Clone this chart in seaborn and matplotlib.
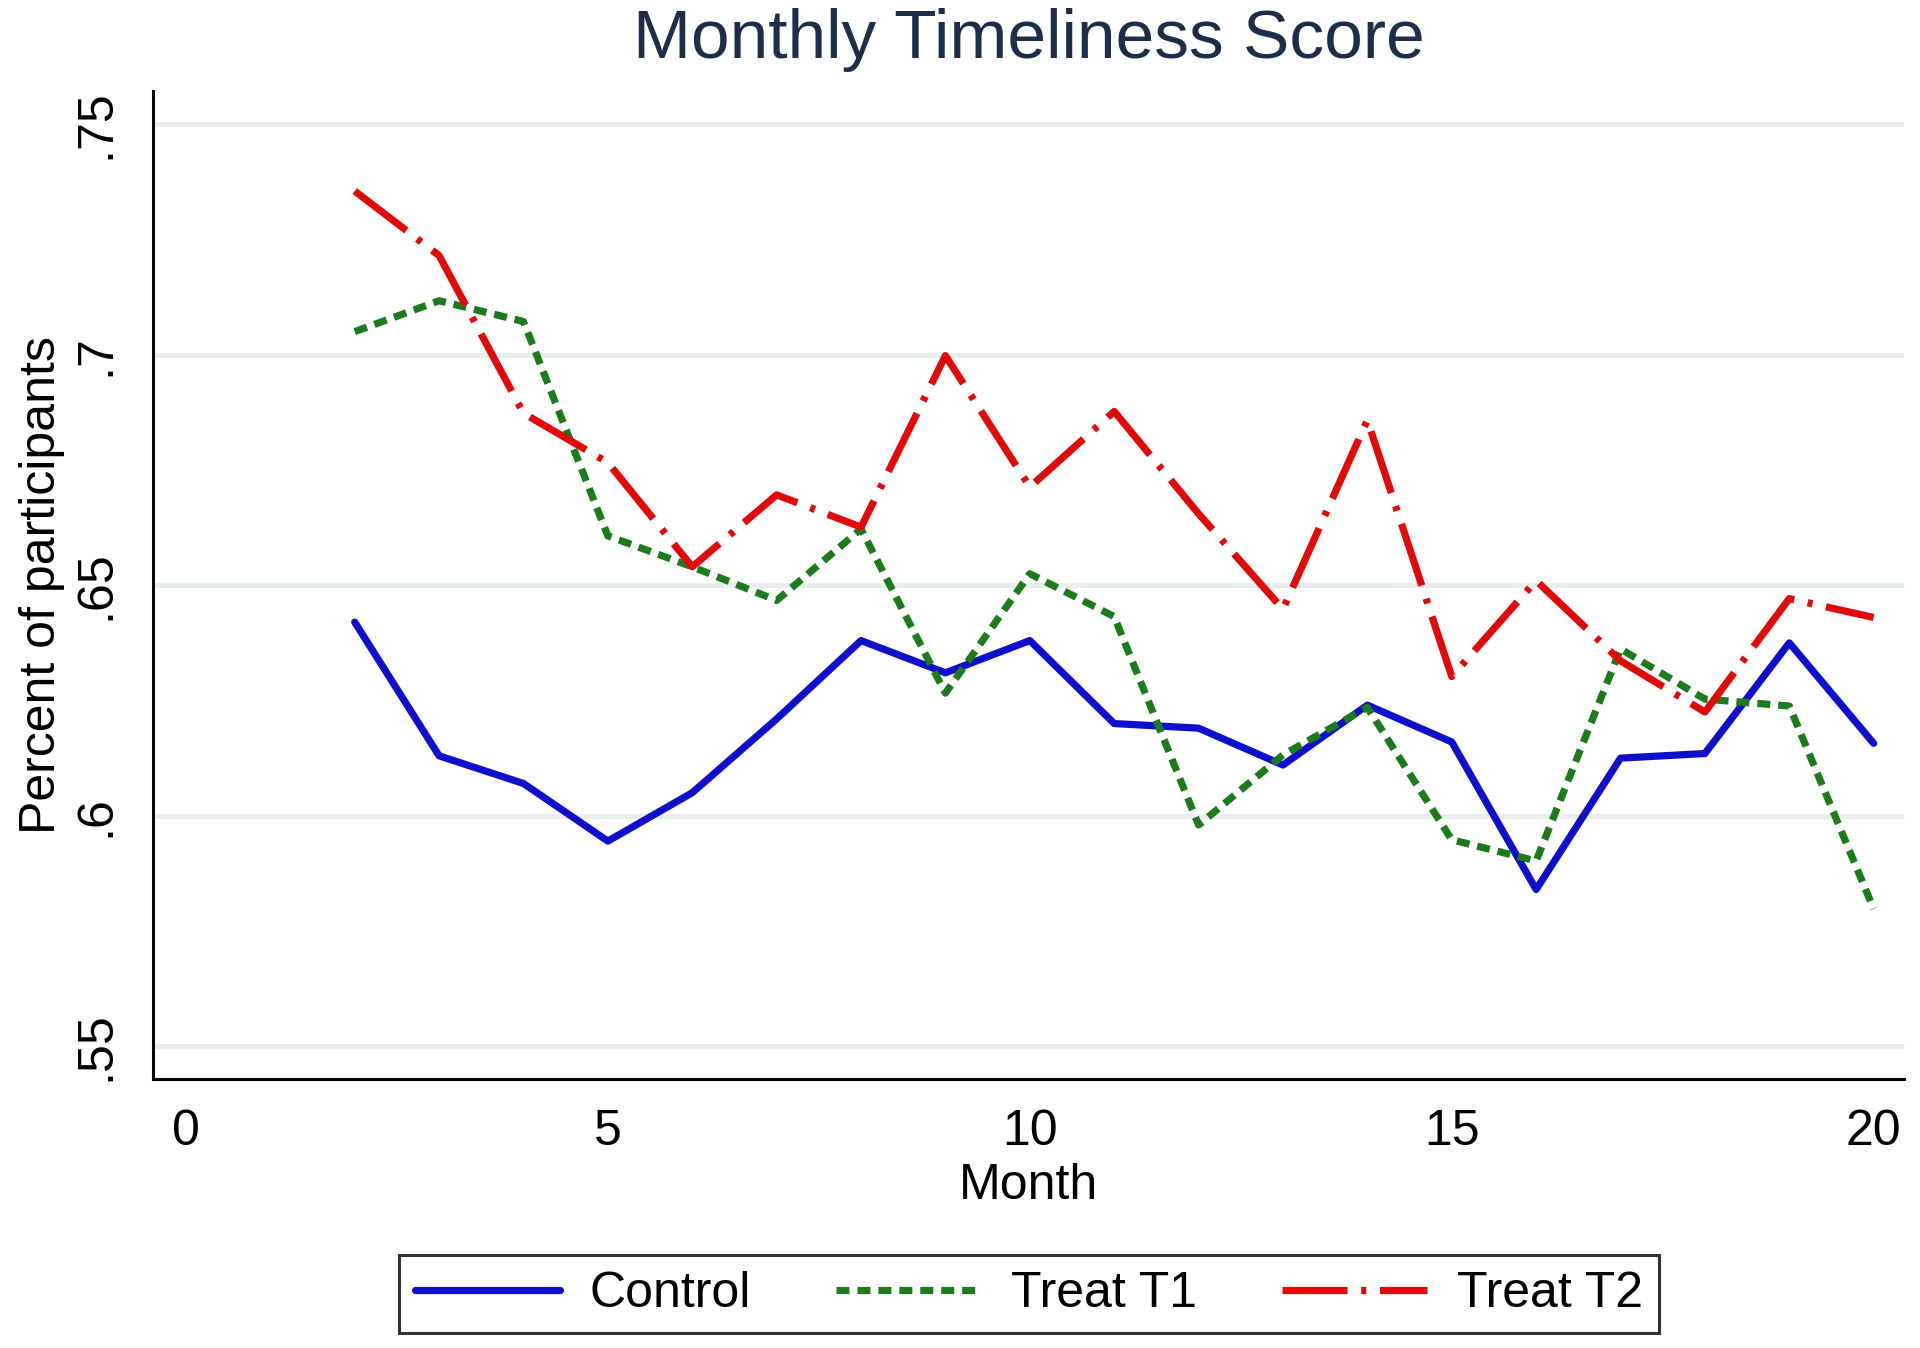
import matplotlib
matplotlib.use("Agg")
import matplotlib.pyplot as plt
import pandas as pd
import seaborn as sns

months = list(range(2, 21))
control = [0.642, 0.613, 0.607, 0.5945, 0.605, 0.621, 0.638, 0.631, 0.638, 0.620,
           0.619, 0.611, 0.624, 0.616, 0.584, 0.6125, 0.6135, 0.6375, 0.6157]
treat_t1 = [0.705, 0.7117, 0.7072, 0.6607, 0.654, 0.6467, 0.6622, 0.6266, 0.6525, 0.6432,
            0.598, 0.6132, 0.6235, 0.5948, 0.5902, 0.6362, 0.6253, 0.6238, 0.5798]
treat_t2 = [0.7355, 0.7215, 0.6873, 0.6766, 0.654, 0.6696, 0.6626, 0.6998, 0.6713, 0.6877,
            0.6655, 0.6448, 0.6858, 0.6302, 0.651, 0.6336, 0.6225, 0.6471, 0.643]
groups = ["Control", "Treat T1", "Treat T2"]
y_ticks = [0.55, 0.60, 0.65, 0.70, 0.75]
y_tick_labels = [".55", ".6", ".65", ".7", ".75"]
x_ticks = [0, 5, 10, 15, 20]

df = pd.DataFrame({
    "Month": months * 3,
    "score": control + treat_t1 + treat_t2,
    "group": [groups[0]] * len(months) + [groups[1]] * len(months) + [groups[2]] * len(months),
})

sns.set_style("white")
plt.rcParams["font.family"] = ["Liberation Sans", "DejaVu Sans"]
plt.rcParams["text.color"] = "black"
plt.rcParams["axes.labelcolor"] = "black"
plt.rcParams["xtick.color"] = "black"
plt.rcParams["ytick.color"] = "black"

fig = plt.figure(figsize=(19.2, 13.48), dpi=100)
ax = fig.add_axes([0.0797, 0.1992, 0.912, 0.7333])

palette = {"Control": "#1010cc", "Treat T1": "#1d7a1d", "Treat T2": "#e00a0a"}
dashes = {"Control": "", "Treat T1": (1.8, 1.1), "Treat T2": (9.0, 1.9, 0.7, 1.9)}
lw = 5.2

sns.lineplot(data=df, x="Month", y="score", hue="group", style="group",
             palette=palette, dashes=dashes, linewidth=lw, ax=ax, legend=True)

ax.set_xlim(-0.39, 20.36)
ax.set_ylim(0.5428, 0.7572)
ax.set_xticks(x_ticks)
ax.set_yticks(y_ticks)
ax.set_yticklabels(y_tick_labels, rotation=90, va="center")
ax.tick_params(axis="both", labelsize=36, length=14, width=2, direction="out", color="black")
ax.tick_params(axis="y", pad=10)
ax.tick_params(axis="x", pad=7)
ax.grid(axis="y", color="#e8eeee", linewidth=3.5)
ax.grid(axis="x", visible=False)
for side in ["top", "right"]:
    ax.spines[side].set_visible(False)
for side in ["left", "bottom"]:
    ax.spines[side].set_color("black")
    ax.spines[side].set_linewidth(2.2)

ax.set_xlabel("Month", fontsize=36, labelpad=6)
ax.set_ylabel("Percent of participants", fontsize=36, labelpad=6)
ax.set_title("Monthly Timeliness Score", fontsize=50, color="#1e2d48", pad=24)

handles, labels = ax.get_legend_handles_labels()
ax.legend(handles, labels, loc="center", ncol=3, fontsize=36,
          bbox_to_anchor=(0.536, 0.040), bbox_transform=fig.transFigure,
          frameon=True, fancybox=False, edgecolor="black", handlelength=2.9,
          columnspacing=1.7, borderpad=0.32, handletextpad=0.6)
leg = ax.get_legend()
leg.get_frame().set_linewidth(2.2)
for line in leg.get_lines():
    line.set_linewidth(lw)

fig.savefig("out.png", dpi=100, facecolor="white")
